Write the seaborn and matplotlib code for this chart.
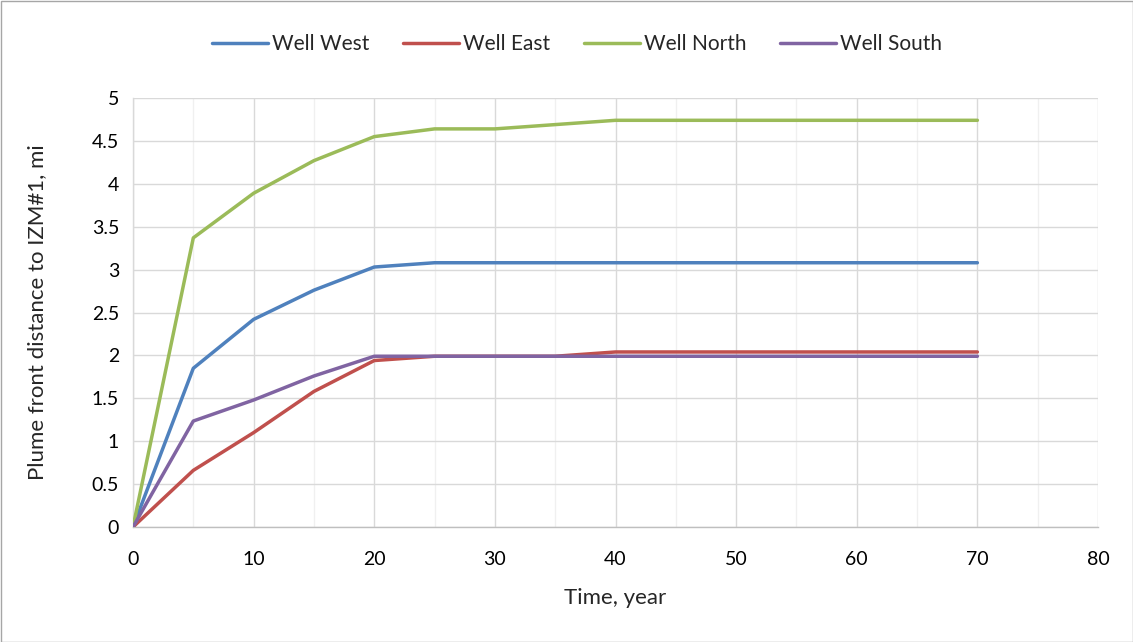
import numpy as np
import pandas as pd
import matplotlib
matplotlib.use("Agg")
import matplotlib.pyplot as plt
import seaborn as sns
from matplotlib.ticker import MultipleLocator

years = [0, 5, 10, 15, 20, 25, 30, 35, 40, 45, 50, 55, 60, 65, 70]
well_west = [0, 1.85, 2.42, 2.76, 3.03, 3.08, 3.08, 3.08, 3.08, 3.08, 3.08, 3.08, 3.08, 3.08, 3.08]
well_east = [0, 0.66, 1.10, 1.58, 1.94, 1.99, 1.99, 1.99, 2.04, 2.04, 2.04, 2.04, 2.04, 2.04, 2.04]
well_north = [0, 3.37, 3.89, 4.27, 4.55, 4.64, 4.64, 4.69, 4.74, 4.74, 4.74, 4.74, 4.74, 4.74, 4.74]
well_south = [0, 1.235, 1.48, 1.76, 1.99, 1.99, 1.99, 1.99, 1.99, 1.99, 1.99, 1.99, 1.99, 1.99, 1.99]
series_names = ["Well West", "Well East", "Well North", "Well South"]
colors = ["#4f81bd", "#c0504d", "#9bbb59", "#8064a2"]

df = pd.concat([
    pd.DataFrame({"Time": years, "Distance": vals, "Series": name})
    for name, vals in zip(series_names, [well_west, well_east, well_north, well_south])
])

sns.set_theme(style="white")
plt.rcParams['font.family'] = ['Lato', 'DejaVu Sans']

fig = plt.figure(figsize=(11.33, 6.42), dpi=100)
ax = fig.add_axes([133/1133, 1 - 527/642, (1098-133)/1133, (527-98)/642])

sns.lineplot(data=df, x="Time", y="Distance", hue="Series", hue_order=series_names,
             palette=colors, linewidth=2.5, ax=ax, legend=True, zorder=3)

ax.set_xlim(0, 80)
ax.set_ylim(0, 5)
ax.xaxis.set_major_locator(MultipleLocator(10))
ax.xaxis.set_minor_locator(MultipleLocator(5))
ax.set_yticks(np.arange(0, 5.01, 0.5))
ax.set_yticklabels(["0", "0.5", "1", "1.5", "2", "2.5", "3", "3.5", "4", "4.5", "5"])
ax.grid(which="major", axis="both", color="#d9d9d9", linewidth=1.0, zorder=0)
ax.grid(which="minor", axis="x", color="#f0f0f0", linewidth=1.0, zorder=0)
ax.set_axisbelow(True)
for s in ["top", "right"]:
    ax.spines[s].set_visible(False)
ax.spines["left"].set_color("#d9d9d9")
ax.spines["bottom"].set_color("#bfbfbf")
ax.spines["left"].set_linewidth(1.0)
ax.spines["bottom"].set_linewidth(1.0)
ax.tick_params(axis="x", which="both", length=0, labelsize=14, colors="#000000", pad=17)
ax.tick_params(axis="y", which="both", length=0, labelsize=14, colors="#000000", pad=10)

ax.set_xlabel("Time, year", fontsize=16, labelpad=15)
ax.set_ylabel("Plume front distance to IZM#1, mi", fontsize=16, labelpad=32)

handles, labels = ax.get_legend_handles_labels()
ax.legend(handles, labels, loc="center", bbox_to_anchor=(577/1133, 1 - 44/642),
          bbox_transform=fig.transFigure, ncol=4, frameon=False, fontsize=15,
          handlelength=2.7, handletextpad=0.2, columnspacing=1.6)

fig.patches.append(plt.Rectangle((0.5/1133, 0.5/642), 1 - 1/1133, 1 - 1/642,
                                 transform=fig.transFigure, fill=False,
                                 edgecolor="#a6a6a6", linewidth=1.0))

fig.savefig("out.png", dpi=100)
